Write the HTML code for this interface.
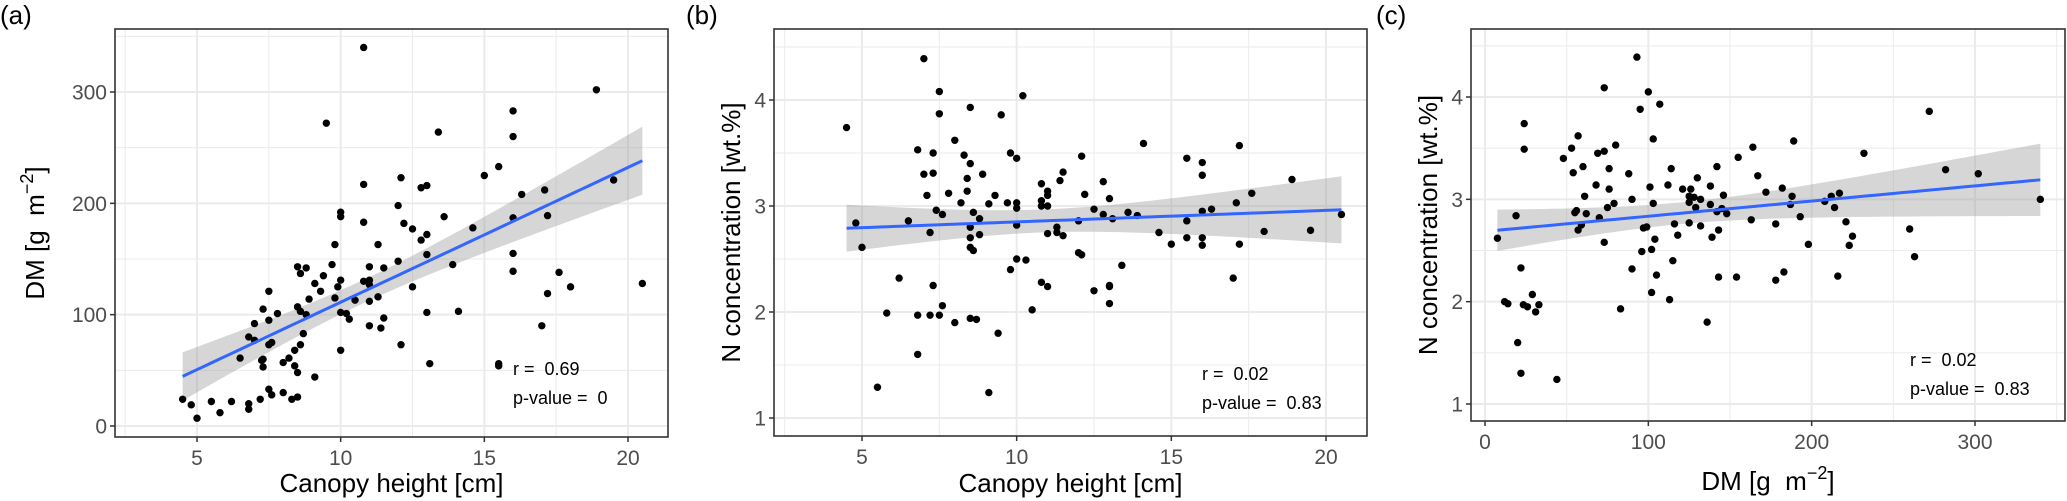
<!DOCTYPE html>
<html><head><meta charset="utf-8"><style>
html,body{margin:0;padding:0;background:#fff;}
svg{display:block;font-family:"Liberation Sans",sans-serif;}
text{white-space:pre;}
</style></head><body>
<svg id="chart" width="2067" height="501" viewBox="0 0 2067 501"></svg>
<script>
// Panel (a): canopy height vs DM
const aX=[4.5,4.8,5,5.5,5.8,6.2,6.5,6.8,6.8,6.8,7,7,7.2,7.25,7.3,7.3,7.3,7.5,7.5,7.5,7.5,7.6,7.6,7.8,8,8,8.2,8.3,8.4,8.4,8.5,8.5,8.5,8.5,8.6,8.6,8.6,8.7,8.8,8.8,8.9,9.1,9.1,9.3,9.4,9.5,9.7,9.8,9.8,9.9,10,10,10,10,10,10.2,10.3,10.5,10.8,10.8,10.8,10.8,11,11,11,11,11,11.3,11.3,11.4,11.5,11.5,12,12,12.1,12.1,12.2,12.5,12.5,12.8,12.8,13,13,13,13,13.1,13.4,13.6,13.9,14.1,14.6,15,15.5,15.5,15.5,16,16,16,16,16,16.3,17,17.1,17.2,17.2,17.6,18,18.9,19.5,20.5];
const aY=[24,19,7,22,12,22,61,80,20,15,92,77,24,59,53,60,105,121,95,73,33,75,28,101,57,30,61,24,54,68,48,26,143,107,137,103,73,83,142,100,114,44,128,121,135,272,145,163,115,125,192,188,131,102,68,101,96,113,340,217,183,130,143,131,127,112,90,163,116,88,142,97,198,148,223,73,182,177,125,167,214,216,172,154,102,56,264,188,145,103,178,225,233,56,54,283,260,187,155,139,208,90,212,189,119,138,125,302,221,128];
// Panel (b): canopy height vs N concentration
const bX=[4.5,4.8,5,5.5,5.8,6.2,6.5,6.8,6.8,6.8,7,7,7.1,7.2,7.2,7.3,7.3,7.3,7.4,7.5,7.5,7.5,7.6,7.6,7.8,8,8,8.2,8.3,8.4,8.4,8.5,8.5,8.5,8.5,8.5,8.5,8.6,8.6,8.7,8.8,8.8,8.9,9.1,9.1,9.3,9.4,9.5,9.7,9.8,9.8,10,10,10,10,10,10.2,10.3,10.5,10.8,10.8,10.8,10.8,11,11,11,11,11,11.3,11.3,11.4,11.5,11.5,12,12,12.1,12.1,12.2,12.5,12.5,12.8,12.8,13,13,13,13,13.1,13.4,13.6,13.9,14.1,14.6,15,15.5,15.5,15.5,16,16,16,16,16,16.3,17,17.1,17.2,17.2,17.6,18,18.9,19.5,20.5];
const bY=[3.74,2.84,2.61,1.29,1.99,2.32,2.86,3.53,1.97,1.6,4.39,3.3,3.1,2.75,1.97,3.5,3.31,2.25,2.96,4.08,3.87,1.97,2.92,2.06,3.12,3.62,1.9,3.03,3.48,3.26,3.14,3.93,3.4,2.8,2.7,2.61,1.94,2.94,2.58,1.93,2.88,2.73,3.3,3.02,1.24,3.1,1.8,3.86,3.03,3.5,2.4,3.45,3.03,2.98,2.82,2.5,4.04,2.49,2.02,3.21,3.05,3.0,2.28,3.14,3.1,3.0,2.74,2.24,2.8,2.75,3.24,3.32,2.72,2.86,2.56,3.47,2.54,3.11,2.97,2.2,3.23,2.92,3.07,2.25,2.24,2.08,2.88,2.44,2.94,2.91,3.59,2.75,2.64,3.45,2.86,2.7,3.41,3.29,2.95,2.7,2.63,2.97,2.32,3.03,3.57,2.64,3.12,2.76,3.25,2.77,2.92];
// Panel (c): DM vs N concentration
const cX=[7.6,12,14,19,20,22,22,24,24,23.5,26,29,31,33,44,48,53,54,55,56,57,57,59,60,61,62,68,69,70,73,73,73,75,76,76,79,80,88,90,90,83,93,95,96,97,99,100,101,102,102,103,103,104,105,107,112,113,114,115,116,118,121,125,125,125,126,128,129,130,132,132,136,138,138,139,142,142,143,143,145,146,148,154,155,163,164,167,172,178,178,182,183,187,188,189,193,198,208,212,214,216,217,221,223,225,232,260,263,272,282,302,340];
const cY=[2.62,2.0,1.98,2.84,1.6,1.3,2.33,3.74,3.49,1.97,1.95,2.07,1.9,1.97,1.24,3.4,3.5,3.26,2.87,2.89,3.62,2.7,2.75,3.32,3.03,2.86,3.14,3.45,2.82,4.09,2.58,3.47,2.92,3.3,3.1,2.96,3.53,3.25,3.0,2.32,1.93,4.39,3.88,2.49,2.72,2.73,4.05,3.12,2.09,2.51,3.59,2.96,2.61,2.26,3.93,3.14,2.02,3.3,2.4,2.76,2.65,3.1,3.03,2.97,2.77,3.1,3.02,2.92,3.21,3.0,2.74,1.8,2.95,3.13,2.63,2.88,3.32,2.7,2.24,2.91,3.04,2.86,2.24,3.41,2.8,3.51,3.23,3.07,2.76,2.21,3.11,2.29,2.95,3.03,3.57,2.83,2.56,2.98,3.03,2.92,2.25,3.06,2.78,2.55,2.64,3.45,2.71,2.44,3.86,3.29,3.25,3.0];
// Tick labels
const heightTicks=[5,10,15,20];
const dmTicks=[0,100,200,300];
const nTicks=[1,2,3,4];
const aStats=["r =  0.69","p-value =  0"];
const bStats=["r =  0.02","p-value =  0.83"];
const cStats=["r =  0.02","p-value =  0.83"];

const NS="http://www.w3.org/2000/svg";
const svg=document.getElementById('chart');
function mk(tag,attrs,parent){const e=document.createElementNS(NS,tag);for(const k in attrs)e.setAttribute(k,attrs[k]);(parent||svg).appendChild(e);return e;}
function lin(d0,d1,r0,r1){return v=>r0+(v-d0)*(r1-r0)/(d1-d0);}

function panel(o){
  const g=mk('g',{});
  
  
  const sx=lin(o.xd[0],o.xd[1],o.xr[0],o.xr[1]);
  const sy=lin(o.yd[0],o.yd[1],o.yr[0],o.yr[1]);
  const X0=o.box[0],X1=o.box[1],Y0=o.box[2],Y1=o.box[3];
  const x0v=o.xd[0]+(X0-o.xr[0])*(o.xd[1]-o.xd[0])/(o.xr[1]-o.xr[0]);
  const x1v=o.xd[0]+(X1-o.xr[0])*(o.xd[1]-o.xd[0])/(o.xr[1]-o.xr[0]);
  const y0v=o.yd[0]+(Y1-o.yr[0])*(o.yd[1]-o.yd[0])/(o.yr[1]-o.yr[0]);
  const y1v=o.yd[0]+(Y0-o.yr[0])*(o.yd[1]-o.yd[0])/(o.yr[1]-o.yr[0]);
  mk('rect',{x:X0,y:Y0,width:X1-X0,height:Y1-Y0,fill:'#fff'},g);
  const xs=o.xt[1]-o.xt[0], ys=o.yt[1]-o.yt[0];
  for(let v=o.xt[0]-xs*2.5;v<=x1v;v+=xs/2){ if(v<x0v)continue; const major=o.xt.some(t=>Math.abs(t-v)<1e-9);
    const l=mk('line',{x1:sx(v),x2:sx(v),y1:Y0,y2:Y1,stroke:'#ebebeb','stroke-width':major?2:1},g);
    
    }
  for(let v=o.yt[0]-ys*2.5;v<=y1v;v+=ys/2){ if(v<y0v)continue; const major=o.yt.some(t=>Math.abs(t-v)<1e-9);
    const l=mk('line',{x1:X0,x2:X1,y1:sy(v),y2:sy(v),stroke:'#ebebeb','stroke-width':major?2:1},g);
    
    }
  const n=o.x.length; let mx=0,my=0; for(let i=0;i<n;i++){mx+=o.x[i];my+=o.y[i];} mx/=n;my/=n;
  let sxx=0,sxy=0; for(let i=0;i<n;i++){sxx+=(o.x[i]-mx)**2;sxy+=(o.x[i]-mx)*(o.y[i]-my);}
  const b=sxy/sxx,a=my-b*mx; let sse=0; for(let i=0;i<n;i++){sse+=(o.y[i]-a-b*o.x[i])**2;}
  const s=Math.sqrt(sse/(n-2)), t=1.98;
  const xmin=Math.min(...o.x),xmax=Math.max(...o.x);
  const up=[],lo=[],ln=[];
  for(let k=0;k<=60;k++){const xv=xmin+(xmax-xmin)*k/60; const yh=a+b*xv; const se=t*s*Math.sqrt(1/n+(xv-mx)**2/sxx);
    up.push(sx(xv)+','+sy(yh+se)); lo.unshift(sx(xv)+','+sy(yh-se)); ln.push(sx(xv)+','+sy(yh));}
  const band=mk('polygon',{points:up.concat(lo).join(' '),fill:'#999999','fill-opacity':0.4},g);
  
  
  for(let i=0;i<n;i++){const c=mk('circle',{cx:sx(o.x[i]),cy:sy(o.y[i]),r:3.7,fill:'#000'},g);
    
    }
  const fl=mk('polyline',{points:ln.join(' '),fill:'none',stroke:'#3366FF','stroke-width':3},g);
  
  
  const bd=mk('rect',{x:X0,y:Y0,width:X1-X0,height:Y1-Y0,fill:'none',stroke:'#333','stroke-width':1.6},g);
  
  
  o.xt.forEach(v=>{mk('line',{x1:sx(v),x2:sx(v),y1:Y1,y2:Y1+5,stroke:'#333','stroke-width':1.5},g);
    const tx=mk('text',{x:sx(v),y:Y1+28,'text-anchor':'middle','font-size':21,fill:'#4d4d4d'},g);tx.textContent=v;
    
    });
  o.yt.forEach(v=>{mk('line',{x1:X0-5,x2:X0,y1:sy(v),y2:sy(v),stroke:'#333','stroke-width':1.5},g);
    const tx=mk('text',{x:X0-8,y:sy(v)+7.5,'text-anchor':'end','font-size':21,fill:'#4d4d4d'},g);tx.textContent=v;
    
    });
  o.stats.forEach((s2,i)=>{const tx=mk('text',{x:o.st[0],y:o.st[1]+i*29,'font-size':18,fill:'#000'},g);tx.textContent=s2;
    
    });
  const xt=mk('text',{x:(X0+X1)/2,y:o.xty,'text-anchor':'middle','font-size':26,fill:'#000'},g);xt.innerHTML=o.xtitle;
  
  
  const yt=mk('text',{x:0,y:0,'text-anchor':'middle','font-size':26,fill:'#000',transform:`translate(${o.ytx},${(Y0+Y1)/2}) rotate(-90)`},g);yt.innerHTML=o.ytitle;
  
  
  const pl=mk('text',{x:o.lab[0],y:o.lab[1],'font-size':26,fill:'#000'},g);pl.textContent=o.label;
  
  
}
const DMT='DM [g  m<tspan font-size="18" dy="-11">\u22122</tspan><tspan dy="11">]</tspan>';
const NT='N concentration [wt.%]';
panel({name:'panel-a',x:aX,y:aY,xd:[5,20],xr:[197,628],yd:[0,300],yr:[426,92],box:[115,668,29,437],xt:heightTicks,yt:dmTicks,stats:aStats,st:[513,375],xtitle:'Canopy height [cm]',xty:492,ytitle:DMT,ytx:44,lab:[0,24],label:'(a)'});
panel({name:'panel-b',x:bX,y:bY,xd:[5,20],xr:[862,1326],yd:[1,4],yr:[418,100],box:[774,1367,29,436],xt:heightTicks,yt:nTicks,stats:bStats,st:[1202,380],xtitle:'Canopy height [cm]',xty:492,ytitle:NT,ytx:740,lab:[686,24],label:'(b)'});
panel({name:'panel-c',x:cX,y:cY,xd:[0,300],xr:[1485,1975],yd:[1,4],yr:[404,97],box:[1471,2065,29,421],xt:dmTicks,yt:nTicks,stats:cStats,st:[1910,366],xtitle:DMT,xty:490,ytitle:NT,ytx:1437,lab:[1376,24],label:'(c)'});
</script>
</body></html>
